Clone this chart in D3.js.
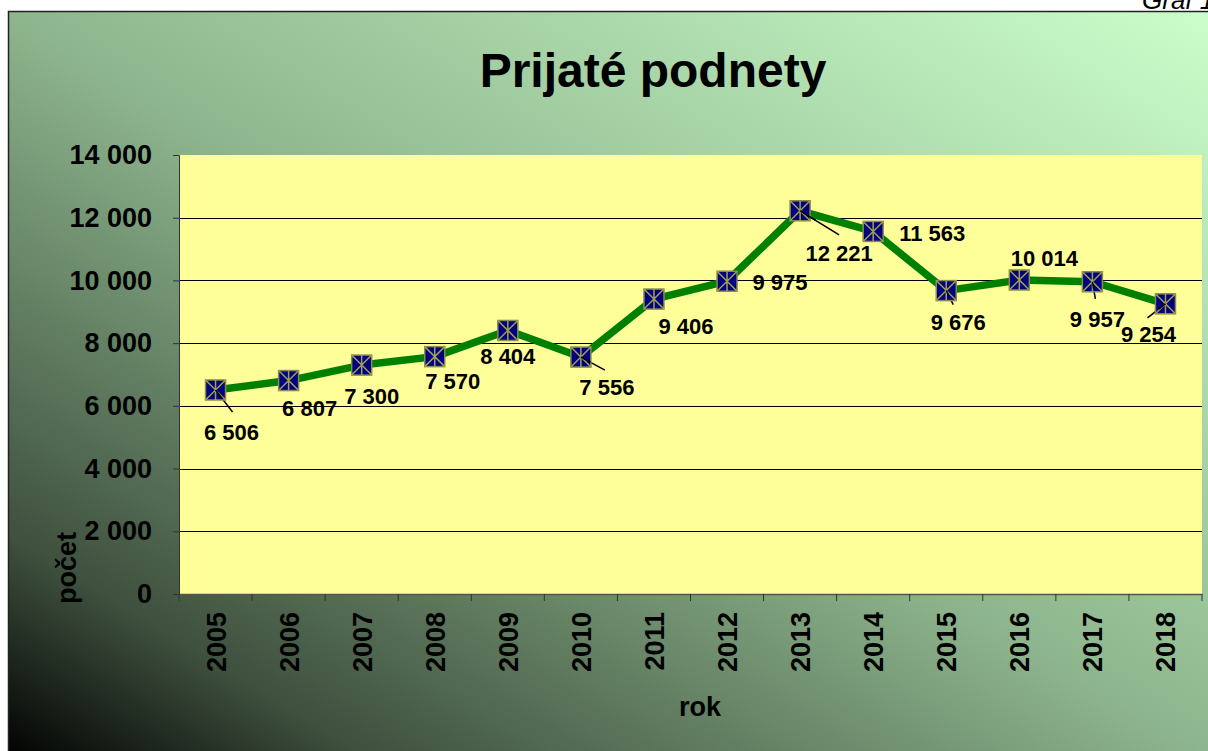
<!DOCTYPE html>
<html>
<head>
<meta charset="utf-8">
<script src="https://cdn.jsdelivr.net/npm/d3@7"></script>
<style>
  body { margin: 0; background: #fff; }
  svg { display: block; font-family: "Liberation Sans", Arial, sans-serif; }
</style>
</head>
<body>
<div id="chart"></div>
<script>
const years = ["2005", "2006", "2007", "2008", "2009", "2010", "2011",
  "2012", "2013", "2014", "2015", "2016", "2017", "2018"];
const counts = [6506, 6807, 7300, 7570, 8404, 7556, 9406,
  9975, 12221, 11563, 9676, 10014, 9957, 9254];
const yTicks = [0, 2000, 4000, 6000, 8000, 10000, 12000, 14000];

// label centre offsets from the point, and leader line end (null = no leader)
const labelPos = [
  [16, 42, [17, 22]], [21, 27, null], [10, 31, null], [18, 24, null],
  [0, 26, null], [26, 30, [24, 13]], [32, 27, null], [53, 1, null],
  [39, 42, [39, 24]], [59, 2, null], [12, 31, [7, 14]], [25, -22, null],
  [5, 37, [3, 17]], [-17, 30, [-18, 14]]
];

function createChart() {
  const width = 1208, height = 751;
  const margin = { left: 179, right: 6, top: 155, bottom: 157 };
  const fmt = (v) => d3.format(",")(v).replace(/,/g, " ");

  const svg = d3.select("#chart").append("svg")
    .attr("width", width).attr("height", height);

  const defs = svg.append("defs");
  const grad = defs.append("linearGradient").attr("id", "bg")
    .attr("x1", 0).attr("y1", 1).attr("x2", 1).attr("y2", 0);
  [[0, "#000000"], [0.15, "#3e503e"], [0.5, "#8eb68e"], [1, "#ccffcc"]]
    .forEach(([o, c]) => grad.append("stop").attr("offset", o).attr("stop-color", c));

  svg.append("text").attr("x", 1142).attr("y", 9)
    .attr("font-size", 26).attr("font-style", "italic").text("Graf 1");

  svg.append("rect").attr("x", 8.5).attr("y", 11.5)
    .attr("width", width + 10).attr("height", height)
    .attr("fill", "url(#bg)").attr("stroke", "#222").attr("stroke-width", 1.5);

  svg.append("text").attr("x", 653).attr("y", 87)
    .attr("text-anchor", "middle").attr("font-size", 48)
    .attr("font-weight", "bold").text("Prijaté podnety");

  const x = d3.scaleBand().domain(years)
    .range([margin.left, width - margin.right]);
  const y = d3.scaleLinear().domain([0, 14000])
    .range([height - margin.bottom, margin.top]);

  svg.append("rect")
    .attr("x", margin.left).attr("y", margin.top)
    .attr("width", x.range()[1] - margin.left)
    .attr("height", y(0) - margin.top)
    .attr("fill", "#ffff99");

  // gridlines
  svg.append("g").selectAll("line")
    .data(yTicks.slice(1, -1)).join("line")
    .attr("x1", margin.left).attr("x2", x.range()[1])
    .attr("y1", (d) => Math.round(y(d)) + 0.5).attr("y2", (d) => Math.round(y(d)) + 0.5)
    .attr("stroke", "#000").attr("stroke-width", 1);

  // y axis
  const yAxis = svg.append("g")
    .attr("transform", `translate(${margin.left},0)`)
    .call(d3.axisLeft(y).tickValues(yTicks).tickFormat(fmt).tickSize(6).tickPadding(21));
  yAxis.selectAll("text").attr("font-size", 27).attr("font-weight", "bold")
    .attr("font-family", "Liberation Sans, Arial, sans-serif").attr("fill", "#000");
  yAxis.selectAll("line, path").attr("stroke", "#333");

  // x axis
  const xAxis = svg.append("g")
    .attr("transform", `translate(0,${y(0)})`)
    .call(d3.axisBottom(x).tickSize(0).tickFormat(""));
  xAxis.select("path").attr("stroke", "#555").attr("stroke-width", 1.5);
  xAxis.append("g").selectAll("line")
    .data(years.concat(["end"])).join("line")
    .attr("x1", (d, i) => margin.left + i * x.bandwidth())
    .attr("x2", (d, i) => margin.left + i * x.bandwidth())
    .attr("y1", 0).attr("y2", 7).attr("stroke", "#333");
  xAxis.selectAll(".lbl").data(years).join("text").attr("class", "lbl")
    .attr("transform", (d) => `translate(${x(d) + x.bandwidth() / 2 + 10},18) rotate(-90)`)
    .attr("text-anchor", "end").attr("font-size", 27).attr("font-weight", "bold")
    .attr("fill", "#000").text((d) => d);

  svg.append("text").attr("x", 700).attr("y", 716)
    .attr("text-anchor", "middle").attr("font-size", 27)
    .attr("font-weight", "bold").text("rok");
  svg.append("text")
    .attr("transform", `translate(76,568) rotate(-90)`)
    .attr("text-anchor", "middle").attr("font-size", 27)
    .attr("font-weight", "bold").text("počet");

  const pts = years.map((d, i) => ({ year: d, v: counts[i],
    px: x(d) + x.bandwidth() / 2, py: y(counts[i]), lp: labelPos[i] }));

  // leader lines
  svg.append("g").selectAll("line")
    .data(pts.filter((d) => d.lp[2])).join("line")
    .attr("x1", (d) => d.px).attr("y1", (d) => d.py)
    .attr("x2", (d) => d.px + d.lp[2][0])
    .attr("y2", (d) => d.py + d.lp[2][1])
    .attr("stroke", "#000").attr("stroke-width", 1.5);

  svg.append("path").datum(pts)
    .attr("fill", "none").attr("stroke", "#008000").attr("stroke-width", 7.5)
    .attr("stroke-linejoin", "round")
    .attr("d", d3.line().x((d) => d.px).y((d) => d.py));

  const s = 10;
  const mk = svg.append("g").selectAll("g").data(pts).join("g")
    .attr("transform", (d) => `translate(${d.px},${d.py})`);
  mk.append("rect").attr("x", -s).attr("y", -s).attr("width", 2 * s).attr("height", 2 * s)
    .attr("fill", "#000080").attr("stroke", "#8a8a50").attr("stroke-width", 1.5);
  mk.append("path")
    .attr("d", `M${-s},${-s}L${s},${s}M${s},${-s}L${-s},${s}M0,${-s}V${s}`)
    .attr("stroke", "#a0a050").attr("stroke-width", 1.5);

  svg.append("g").selectAll("text").data(pts).join("text")
    .attr("x", (d) => d.px + d.lp[0]).attr("y", (d) => d.py + d.lp[1] + 8)
    .attr("text-anchor", "middle").attr("font-size", 22).attr("font-weight", "bold")
    .text((d) => fmt(d.v));

  // redraw leader lines on top of the marker so they start at its centre
  svg.append("g").selectAll("line")
    .data(pts.filter((d) => d.lp[2])).join("line")
    .attr("x1", (d) => d.px).attr("y1", (d) => d.py)
    .attr("x2", (d) => d.px + d.lp[2][0] * 0.4)
    .attr("y2", (d) => d.py + d.lp[2][1] * 0.4)
    .attr("stroke", "#000").attr("stroke-width", 1.5);
}

document.addEventListener("DOMContentLoaded", createChart);
</script>
</body>
</html>
